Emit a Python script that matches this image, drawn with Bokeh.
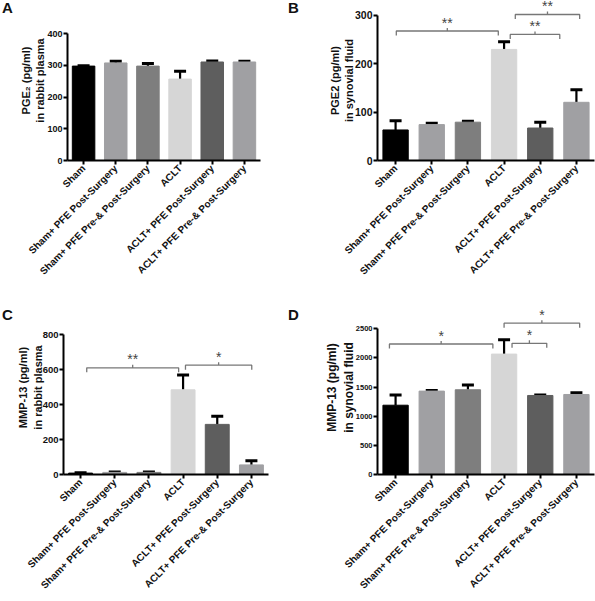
import math
from bokeh.plotting import figure
from bokeh.models import Range1d, FixedTicker, Whisker, ColumnDataSource, TeeHead, Div
from bokeh.layouts import column, row
from bokeh.embed import file_html
from bokeh.resources import INLINE
from bokeh.core.properties import value

categories = ["Sham", "Sham+ PFE Post-Surgery", "Sham+ PFE Pre-& Post-Surgery",
              "ACLT", "ACLT+ PFE Post-Surgery", "ACLT+ PFE Pre-& Post-Surgery"]
bar_colors = ["#000000", "#a0a0a3", "#7e7e7e", "#d6d6d6", "#5e5e5e", "#a0a0a3"]

# A: PGE2 in rabbit plasma
pge2_plasma_mean = [298, 308, 298, 257, 311, 311]
pge2_plasma_upper = [299, 313, 306, 282, 314, 313]
# B: PGE2 in synovial fluid
pge2_sf_mean = [63, 74, 79, 229, 67, 120]
pge2_sf_upper = [82, 77, 81, 245, 79, 146]
# C: MMP-13 in rabbit plasma
mmp13_plasma_mean = [8, 12, 12, 485, 287, 55]
mmp13_plasma_upper = [10, 15, 15, 570, 334, 79]
# D: MMP-13 in synovial fluid
mmp13_sf_mean = [1189, 1431, 1454, 2066, 1356, 1373]
mmp13_sf_upper = [1362, 1443, 1535, 2314, 1362, 1402]

ticks_A = [0, 100, 200, 300, 400]
ticks_B = [0, 100, 200, 300]
ticks_C = [0, 200, 400, 600, 800]
ticks_D = [0, 500, 1000, 1500, 2000, 2500]

# significance brackets: start, end (x in bar units), height, label
brk_B_x0 = [0.52, 3.67, 3.81]
brk_B_x1 = [3.34, 5.04, 5.59]
brk_B_y = [267, 260, 301]
brk_B_txt = ["**", "**", "**"]

brk_C_x0 = [0.68, 3.57]
brk_C_x1 = [3.37, 5.51]
brk_C_y = [611, 626]
brk_C_txt = ["**", "*"]

brk_D_x0 = [0.33, 3.72, 3.50]
brk_D_x1 = [3.19, 4.68, 5.59]
brk_D_y = [2239, 2250, 2597]
brk_D_txt = ["*", "*", "*"]

FONT = "Liberation Sans"


def panel(width, height, mb, frame_h, top_px, yaxis_max, yticks, means, uppers, ylabel,
          title_size, title_standoff, tick_size, brk=None, bar_w=0.7):
    left, right, bottom = mb
    scale = (frame_h - top_px) / float(yaxis_max)   # px per data unit
    p = figure(width=width, height=height, x_range=Range1d(0, len(categories)),
               y_range=Range1d(0, frame_h / scale), output_backend="svg", toolbar_location=None,
               min_border_left=left, min_border_right=right,
               min_border_top=0, min_border_bottom=bottom)
    p.outline_line_color = None
    p.xgrid.visible = False
    p.ygrid.visible = False
    xs = [i + 0.5 for i in range(len(categories))]
    src = ColumnDataSource(dict(x=xs, top=means, upper=uppers, color=bar_colors))
    p.vbar(x="x", top="top", width=bar_w, color="color", source=src)
    p.add_layout(Whisker(base="x", upper="upper", lower="top", source=src,
                         line_width=2.2, line_color="black",
                         upper_head=TeeHead(size=12, line_width=3, line_color="black"),
                         lower_head=None))
    p.xaxis.ticker = FixedTicker(ticks=xs)
    p.xaxis.major_label_overrides = {x: c for x, c in zip(xs, categories)}
    p.xaxis.major_label_orientation = math.pi / 4
    p.yaxis.ticker = FixedTicker(ticks=yticks)
    p.yaxis.bounds = (0, yaxis_max)
    for ax in (p.xaxis[0], p.yaxis[0]):
        ax.axis_line_width = 2
        ax.major_tick_line_width = 2
        ax.major_tick_out = 4
        ax.major_tick_in = 0
        ax.minor_tick_line_color = None
        ax.major_label_text_font = FONT
        ax.major_label_text_font_style = "bold"
        ax.major_label_text_color = "#111111"
        ax.major_label_standoff = 2
    p.yaxis.major_label_standoff = 1
    p.xaxis.major_label_text_font_size = "10px"
    p.yaxis.major_label_text_font_size = tick_size
    p.yaxis.axis_label = ylabel
    p.yaxis.axis_label_text_font = FONT
    p.yaxis.axis_label_text_font_style = "bold"
    p.yaxis.axis_label_text_font_size = title_size
    p.yaxis.axis_label_text_color = "#111111"
    p.yaxis.axis_label_standoff = title_standoff
    if brk is not None:
        bx0, bx1, by, btxt = brk
        drop = 4.5 / scale
        notch = 3.0 / scale
        mxs, mys, tx, ty = [], [], [], []
        for a, b, y in zip(bx0, bx1, by):
            m = (a + b) / 2
            mxs.append([a, a, m, m, m, b, b])
            mys.append([y - drop, y, y, y + notch, y, y, y - drop])
            tx.append(m)
            ty.append(y + 8.5 / scale)
        p.multi_line(xs=mxs, ys=mys, line_color="#777777", line_width=1.3)
        p.text(x=tx, y=ty, text=btxt, text_align="center", text_baseline="alphabetic",
               text_font=value(FONT), text_font_size="14px", text_color="#444444")
    return p


def letter(txt, width, height, pad_left, pad_top):
    html = ('<div style="margin:0;padding:%dpx 0 0 %dpx;text-align:left;'
            'font-family:\'Liberation Sans\';font-weight:bold;font-size:15px;'
            'line-height:15px;color:#111111">%s</div>' % (pad_top, pad_left, txt))
    return Div(text=html, width=width, height=height, margin=0)


pA = panel(266, 300, (53, 20, 140), 160, 33.3, 400, ticks_A, pge2_plasma_mean, pge2_plasma_upper,
           "PGE\u2082 (pg/ml)\nin rabbit plasma", "11px", -2, "9px")
pB = panel(295, 300, (77, 1, 140), 160, 14.5, 300, ticks_B, pge2_sf_mean, pge2_sf_upper,
           "PGE2 (pg/ml)\nin synovial fluid", "11px", -3, "10.5px",
           brk=(brk_B_x0, brk_B_x1, brk_B_y, brk_B_txt))
pC = panel(266, 301, (44, 12, 127), 174, 34.3, 800, ticks_C, mmp13_plasma_mean, mmp13_plasma_upper,
           "MMP-13 (pg/ml)\nin rabbit plasma", "11px", -4, "9.5px",
           brk=(brk_C_x0, brk_C_x1, brk_C_y, brk_C_txt))
pD = panel(295, 301, (77, 1, 127), 174, 28.3, 2500, ticks_D, mmp13_sf_mean, mmp13_sf_upper,
           "MMP-13 (pg/ml)\nin synovial fluid", "12px", -3, "7.5px",
           brk=(brk_D_x0, brk_D_x1, brk_D_y, brk_D_txt))

layout = column(
    row(letter("A", 14, 300, 2, 0), pA, letter("B", 20, 300, 8, 0), pB),
    row(letter("C", 14, 301, 2, 7), pC, letter("D", 20, 301, 8, 7), pD))
open("out.html", "w").write(file_html(layout, INLINE))
